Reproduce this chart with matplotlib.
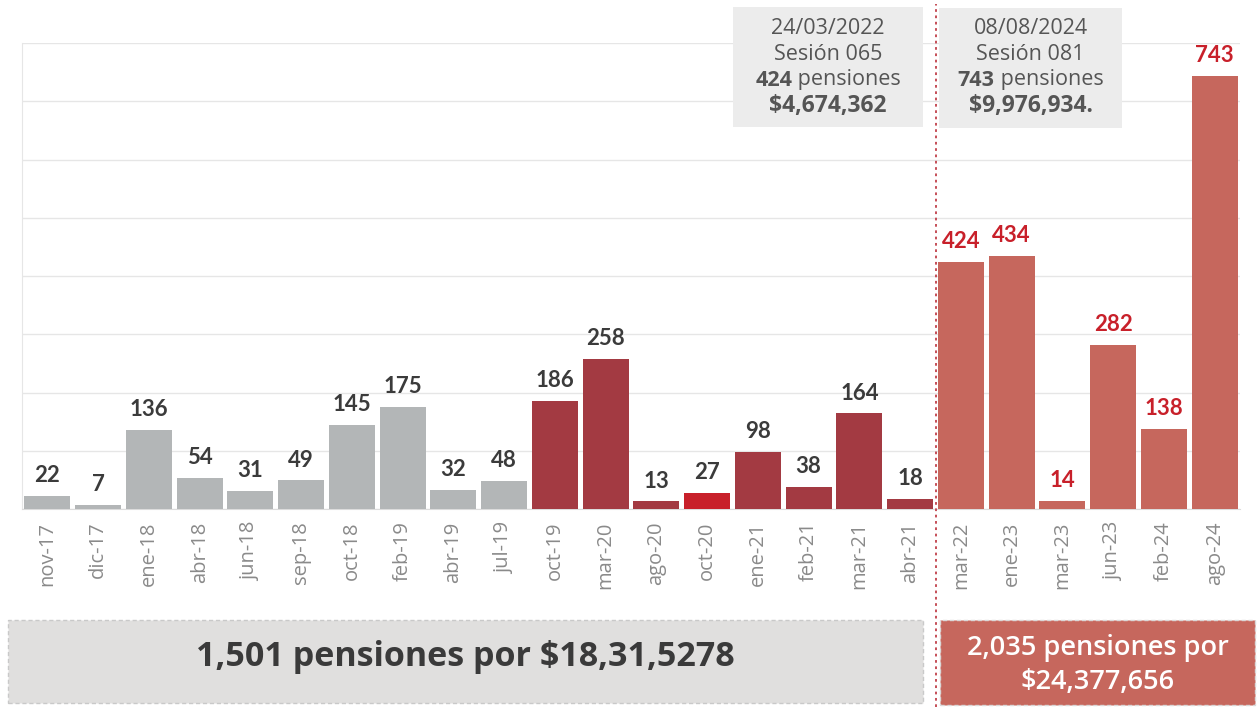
import matplotlib
matplotlib.use("Agg")
import matplotlib.pyplot as plt
from matplotlib.patches import Rectangle

categories = ["nov-17", "dic-17", "ene-18", "abr-18", "jun-18", "sep-18", "oct-18", "feb-19",
              "abr-19", "jul-19", "oct-19", "mar-20", "ago-20", "oct-20", "ene-21", "feb-21",
              "mar-21", "abr-21", "mar-22", "ene-23", "mar-23", "jun-23", "feb-24", "ago-24"]
values = [22, 7, 136, 54, 31, 49, 145, 175, 32, 48, 186, 258, 13, 27, 98, 38, 164, 18,
          424, 434, 14, 282, 138, 743]
groups = ["g"] * 10 + ["d", "d", "d", "r", "d", "d", "d", "d"] + ["l"] * 6

bar_colors = {"g": "#b3b6b7", "d": "#a33a42", "r": "#c8202a", "l": "#c6675d"}
label_colors = {"g": "#3b3b3b", "d": "#3b3b3b", "r": "#3b3b3b", "l": "#c8202a"}

note1 = ["24/03/2022", "Sesión 065", "424", " pensiones", "$4,674,362"]
note2 = ["08/08/2024", "Sesión 081", "743", " pensiones", "$9,976,934."]
summary_left = "1,501 pensiones por $18,31,5278"
summary_right = "2,035 pensiones por\n$24,377,656"

plt.rcParams['font.family'] = ['Open Sans', 'DejaVu Sans']

fig = plt.figure(figsize=(12.59, 7.07), dpi=100)
ax = fig.add_axes([22 / 1259, 1 - 509 / 707, (1240 - 22) / 1259, (509 - 43) / 707])

x = list(range(len(categories)))
ax.bar(x, values, width=0.91, color=[bar_colors[g] for g in groups], zorder=3)
for xi, v, g in zip(x, values, groups):
    ax.text(xi, v + 17, str(v), ha="center", va="bottom", fontsize=16,
            color=label_colors[g], fontweight="bold",
            family=["Lato", "DejaVu Sans"], zorder=4)

ax.set_xlim(-0.5, len(categories) - 0.5)
ax.set_ylim(0, 800)
ax.set_yticks(range(0, 801, 100))
ax.set_yticklabels([])
ax.tick_params(axis="y", length=0)
ax.yaxis.grid(True, color="#e6e6e6", linewidth=1, zorder=0)
ax.set_xticks(x)
ax.set_xticklabels(categories, rotation=90, fontsize=14.5, color="#8a8a8a")
ax.tick_params(axis="x", length=0, pad=9)
for s in ["top", "right"]:
    ax.spines[s].set_visible(False)
ax.spines["left"].set_color("#e6e6e6")
ax.spines["bottom"].set_color("#dcdcdc")

# vertical dotted separator across the whole figure
sep_x = ax.transData.transform((17.5, 0))[0] / fig.dpi / fig.get_figwidth()
fig.add_artist(plt.Line2D([sep_x, sep_x], [0.0, 0.995], transform=fig.transFigure,
                          color="#c0404a", linestyle=(0, (1.5, 2)), linewidth=1.3, zorder=10))

renderer = fig.canvas.get_renderer()

# annotation boxes
def note_box(x0, x1, y0, y1, lines):
    fig.add_artist(Rectangle((x0 / 1259, 1 - y1 / 707), (x1 - x0) / 1259, (y1 - y0) / 707,
                             transform=fig.transFigure, facecolor="#ececec", edgecolor="none",
                             zorder=5))
    cx = (x0 + x1) / 2 / 1259
    ys = [28, 54, 80, 106]
    kw = dict(color="#555555", zorder=6, va="center")
    fig.text(cx, 1 - ys[0] / 707, lines[0], ha="center", fontsize=15.5, fontweight="medium", **kw)
    fig.text(cx, 1 - ys[1] / 707, lines[1], ha="center", fontsize=15.5, fontweight="medium", **kw)
    # mixed bold/regular line, centred as a whole
    tb = fig.text(0, 1 - ys[2] / 707, lines[2], ha="left", fontsize=15.5, fontweight="bold", **kw)
    tr = fig.text(0, 1 - ys[2] / 707, lines[3], ha="left", fontsize=15.5, fontweight="medium", **kw)
    wb = tb.get_window_extent(renderer=renderer).width
    wr = tr.get_window_extent(renderer=renderer).width
    start = cx * fig.bbox.width - (wb + wr) / 2
    tb.set_x(start / fig.bbox.width)
    tr.set_x((start + wb) / fig.bbox.width)
    fig.text(cx, 1 - ys[3] / 707, lines[4], ha="center", fontsize=16.5, fontweight="bold", **kw)

note_box(733, 923, 7, 127, note1)
note_box(939, 1122, 8, 128, note2)

# summary boxes
fig.add_artist(Rectangle((8 / 1259, 1 - 703 / 707), (923 - 8) / 1259, (703 - 620) / 707,
                         transform=fig.transFigure, facecolor="#e0dfde", edgecolor="#c9c9c9",
                         linestyle=(0, (3, 2)), linewidth=1, zorder=5))
fig.text((8 + 923) / 2 / 1259, 1 - 657 / 707, summary_left, ha="center", va="center",
         fontsize=24.5, fontweight="bold", color="#3a3a3a", zorder=6)
fig.add_artist(Rectangle((940 / 1259, 1 - 705 / 707), (1255 - 940) / 1259, (705 - 620) / 707,
                         transform=fig.transFigure, facecolor="#c6675d", edgecolor="#d9d9d9",
                         linestyle=(0, (3, 2)), linewidth=1, zorder=5))
fig.text((940 + 1255) / 2 / 1259, 1 - 665 / 707, summary_right, ha="center", va="center",
         fontsize=19.5, fontweight="semibold", color="white", linespacing=1.25, zorder=6)

fig.savefig("out.png", dpi=100)
